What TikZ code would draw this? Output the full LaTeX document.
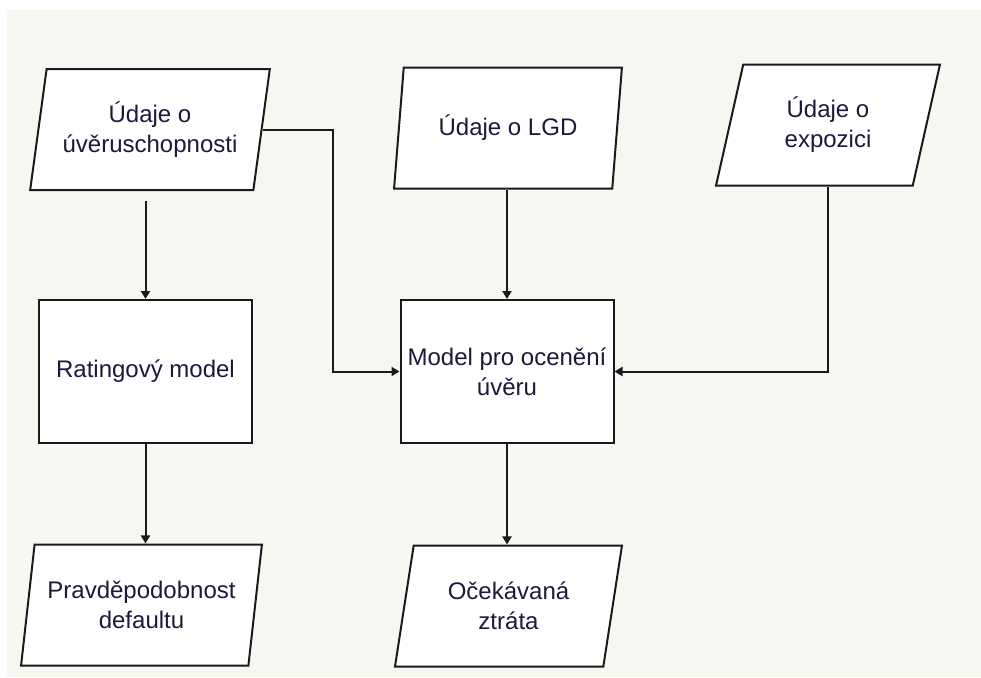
\documentclass[tikz,border=0pt]{standalone}
\usepackage{fontspec}
\setmainfont{Liberation Sans}
\usetikzlibrary{shapes.geometric,arrows.meta,calc}
\definecolor{bgcream}{HTML}{F8F6F0}
\definecolor{linecol}{HTML}{1A1A1A}
\definecolor{textcol}{HTML}{1A1A3A}
\begin{document}
\begin{tikzpicture}[x=1pt,y=-1pt,
  every node/.style={font=\fontsize{24}{30}\selectfont, text=textcol, align=center},
  datashape/.style={trapezium, trapezium left angle=76, trapezium right angle=104,
    trapezium stretches=true, draw=linecol, line width=2pt, fill=white,
    minimum height=121pt, inner sep=0pt},
  procbox/.style={rectangle, draw=linecol, line width=2pt, fill=white,
    minimum width=213pt, minimum height=143pt, inner sep=0pt},
  conn/.style={draw=linecol, line width=2pt, -{Triangle[length=8pt,width=9pt]}}]
\useasboundingbox (0,0) rectangle (981,677);
\fill[white] (0,0) rectangle (981,677);
\fill[bgcream] (7,10) rectangle (981,677);

\node[datashape, minimum width=240pt] (p1) at (150,129.5) {Údaje o\\úvěruschopnosti};
\node[datashape, minimum width=228pt] (lgd) at (508,128) {Údaje o LGD};
\node[datashape, minimum width=224pt] (expo) at (828,125) {Údaje o\\expozici};
\node[procbox] (rating) at (145.5,371.5) {Ratingový model};
\node[procbox] (model) at (507,371.5) {Model pro ocenění\\úvěru};
\node[datashape, minimum width=241pt] (pd) at (141.5,605) {Pravděpodobnost\\defaultu};
\node[datashape, minimum width=227pt] (el) at (508.5,606) {Očekávaná\\ztráta};

\draw[conn] ($(rating.north |- p1.south)+(0,10)$) -- (rating.north);
\draw[conn] (p1.east) -- ++(70,0) |- (model.west);
\draw[conn] (lgd.south -| model.north) -- (model.north);
\draw[conn] (expo.center |- expo.south) |- (model.east);
\draw[conn] (rating.south) -- (rating.south |- pd.north);
\draw[conn] (model.south) -- (model.south |- el.north);
\end{tikzpicture}
\end{document}
